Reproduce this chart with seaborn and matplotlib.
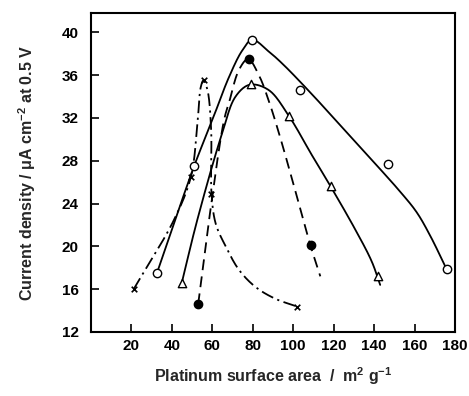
import numpy as np
import pandas as pd
import matplotlib
matplotlib.use("Agg")
import matplotlib.pyplot as plt
import seaborn as sns

# ---- data ----
# marker points
circle_x = [32.6, 51.0, 79.7, 103.5, 147.0, 175.8]
circle_y = [17.5, 27.5, 39.3, 34.6, 27.7, 17.9]
tri_x = [44.9, 79.2, 97.8, 118.5, 141.8]
tri_y = [16.6, 35.2, 32.2, 25.6, 17.2]
dot_x = [53.0, 78.0, 108.8]
dot_y = [14.6, 37.5, 20.1]
cross_x = [21.1, 49.4, 55.9, 59.5, 101.9]
cross_y = [16.0, 26.5, 35.5, 24.9, 14.3]

# hand-drawn curves
circle_cx = [32.6, 51.0, 60.0, 68.2, 74.8, 79.7, 87.9, 95.0, 109.3, 125.7, 142.1, 152.0, 161.0, 168.0, 175.0]
circle_cy = [17.5, 27.5, 31.8, 35.8, 38.3, 39.3, 38.2, 37.0, 34.2, 30.8, 27.4, 25.3, 23.2, 20.9, 18.2]
tri_cx = [44.9, 52.6, 64.9, 71.5, 78.5, 87.9, 97.8, 109.3, 118.5, 130.6, 138.8, 143.0]
tri_cy = [16.6, 22.5, 30.6, 34.0, 35.1, 34.6, 32.2, 28.5, 25.6, 21.6, 18.6, 16.4]
dot_cx = [53.0, 58.4, 65.8, 68.5, 73.2, 77.7, 83.0, 87.9, 92.9, 99.4, 108.5, 113.4]
dot_cy = [14.6, 22.5, 31.8, 33.6, 36.5, 37.5, 36.0, 33.6, 30.6, 26.3, 20.1, 17.2]
cross_cx = [21.1, 41.1, 49.4, 52.6, 54.3, 55.6, 57.6, 59.4, 59.6, 61.7, 66.6, 73.2, 81.4, 91.2, 101.6]
cross_cy = [16.0, 22.5, 26.5, 31.4, 34.9, 35.5, 34.6, 30.9, 24.9, 22.1, 20.0, 17.8, 16.2, 15.1, 14.4]

x_ticks = [20, 40, 60, 80, 100, 120, 140, 160, 180]
y_ticks = [12, 16, 20, 24, 28, 32, 36, 40]


def smooth(xs, ys, n=20):
    """centripetal Catmull-Rom path through the read points (display smoothing)"""
    P = np.column_stack([xs, ys]).astype(float)
    S = np.array([1.0, 5.0])
    Q = P * S
    Q = np.vstack([2 * Q[0] - Q[1], Q, 2 * Q[-1] - Q[-2]])
    out = []
    for i in range(1, len(Q) - 2):
        p0, p1, p2, p3 = Q[i - 1], Q[i], Q[i + 1], Q[i + 2]
        t0 = 0.0
        t1 = t0 + np.linalg.norm(p1 - p0) ** 0.5
        t2 = t1 + np.linalg.norm(p2 - p1) ** 0.5
        t3 = t2 + np.linalg.norm(p3 - p2) ** 0.5
        t = np.linspace(t1, t2, n, endpoint=False)[:, None]
        a1 = (t1 - t) / (t1 - t0) * p0 + (t - t0) / (t1 - t0) * p1
        a2 = (t2 - t) / (t2 - t1) * p1 + (t - t1) / (t2 - t1) * p2
        a3 = (t3 - t) / (t3 - t2) * p2 + (t - t2) / (t3 - t2) * p3
        b1 = (t2 - t) / (t2 - t0) * a1 + (t - t0) / (t2 - t0) * a2
        b2 = (t3 - t) / (t3 - t1) * a2 + (t - t1) / (t3 - t1) * a3
        c = (t2 - t) / (t2 - t1) * b1 + (t - t1) / (t2 - t1) * b2
        out.append(c)
    out.append(Q[-2][None, :])
    R = np.vstack(out) / S
    return R[:, 0], R[:, 1]


sns.set_style("ticks")
plt.rcParams["font.family"] = ["Liberation Sans", "DejaVu Sans"]
plt.rcParams["font.weight"] = "bold"
plt.rcParams["mathtext.fontset"] = "custom"
plt.rcParams["mathtext.rm"] = "Liberation Sans:bold"
plt.rcParams["mathtext.it"] = "Liberation Sans:bold"
plt.rcParams["mathtext.bf"] = "Liberation Sans:bold"

fig = plt.figure(figsize=(4.69, 3.96), dpi=100)
ax = fig.add_axes([91 / 469, 1 - 332 / 396, (455 - 91) / 469, (332 - 13) / 396])

lw = 1.3
curves = [
    (circle_cx, circle_cy, "-"),
    (tri_cx, tri_cy, "-"),
    (dot_cx, dot_cy, (0, (6, 3.5))),
    (cross_cx, cross_cy, (0, (7, 2.5, 1.2, 2.5))),
]
for cx, cy, ls in curves:
    sx, sy = smooth(cx, cy)
    df = pd.DataFrame({"x": sx, "y": sy})
    sns.lineplot(data=df, x="x", y="y", sort=False, estimator=None, ax=ax,
                 color="black", linewidth=lw, linestyle=ls)

sns.scatterplot(x=circle_x, y=circle_y, ax=ax, marker="o", s=36,
                facecolor="white", edgecolor="black", linewidth=1.0, zorder=5)
sns.scatterplot(x=tri_x, y=tri_y, ax=ax, marker="^", s=36,
                facecolor="white", edgecolor="black", linewidth=1.0, zorder=5)
sns.scatterplot(x=dot_x, y=dot_y, ax=ax, marker="o", s=36,
                facecolor="black", edgecolor="black", linewidth=1.0, zorder=5)
sns.scatterplot(x=cross_x, y=cross_y, ax=ax, marker="x", s=16,
                color="black", linewidth=1.2, zorder=5)

ax.set_xlim(0, 180)
ax.set_ylim(12, 41.8)
ax.set_xticks(x_ticks)
ax.set_yticks(y_ticks)
ax.set_xticklabels([str(v) for v in x_ticks], fontsize=11, fontweight="bold")
ax.set_yticklabels([str(v) for v in y_ticks], fontsize=11, fontweight="bold")
ax.tick_params(direction="in", length=6, width=1.2, colors="black")
ax.tick_params(axis="y", pad=9)
ax.tick_params(axis="x", pad=5)
for sp in ax.spines.values():
    sp.set_visible(True)
    sp.set_linewidth(1.5)
    sp.set_color("black")

ax.set_xlabel("Platinum surface area  /  m$^{2}$ g$^{-1}$", fontsize=11.5,
              fontweight="bold", labelpad=9)
ax.set_ylabel("Current density / μA cm$^{-2}$ at 0.5 V", fontsize=11.5,
              fontweight="bold", labelpad=17)

fig.savefig("out.png", dpi=100)
